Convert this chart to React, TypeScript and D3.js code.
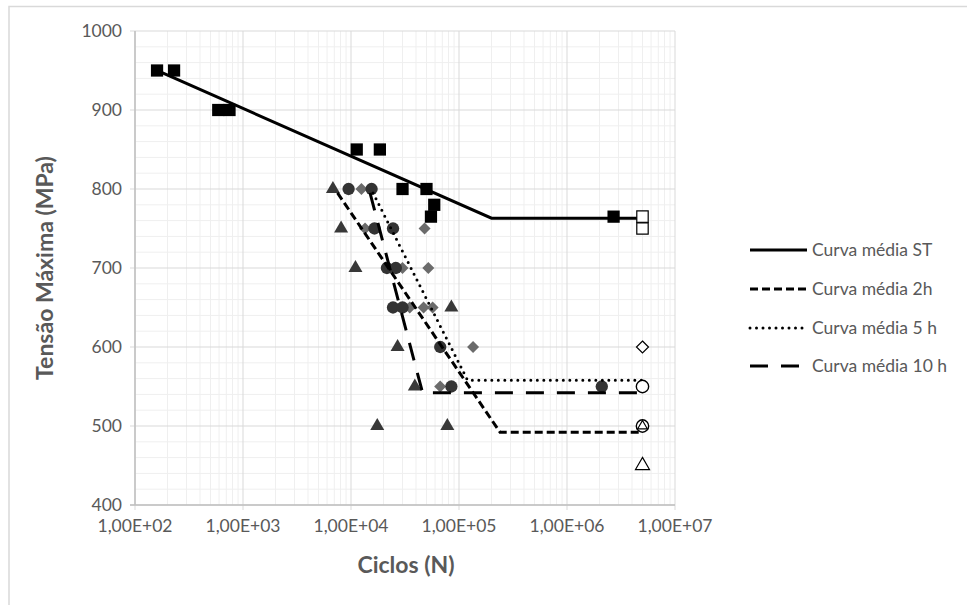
import React from "react";
import * as d3 from "d3";

// ---- data ----
const stN = [160, 230, 590, 750, 11300, 18500, 30000, 50000, 55000, 59000, 2700000];
const stS = [950, 950, 900, 900, 850, 850, 800, 800, 765, 780, 765];
const stRunN = [5000000, 5000000];
const stRunS = [765, 750];

const h2N = [6800, 8100, 11000, 27000, 39000, 17500, 78000, 85000];
const h2S = [800, 750, 700, 600, 550, 500, 500, 650];
const h2RunN = [5000000, 5000000];
const h2RunS = [450, 500];

const h5N = [12500, 13500, 48000, 30000, 52000, 35000, 47000, 57000, 135000, 67000];
const h5S = [800, 750, 750, 700, 700, 650, 650, 650, 600, 550];
const h5RunN = [5000000];
const h5RunS = [600];

const h10N = [9500, 15500, 16500, 24500, 21500, 26000, 24500, 30000, 67000, 85000, 2100000];
const h10S = [800, 800, 750, 750, 700, 700, 650, 650, 600, 550, 550];
const h10RunN = [5000000, 5000000];
const h10RunS = [550, 500];

const meanSTN = [180, 200000, 5000000];
const meanSTS = [947, 763, 763];
const mean2N = [7500, 240000, 5000000];
const mean2S = [795, 492, 492];
const mean5N = [16000, 120000, 5000000];
const mean5S = [795, 558, 558];
const mean10N = [15000, 46000, 5000000];
const mean10S = [795, 542, 542];

const xTicks = [1e2, 1e3, 1e4, 1e5, 1e6, 1e7];
const xTickLabels = ["1,00E+02", "1,00E+03", "1,00E+04", "1,00E+05", "1,00E+06", "1,00E+07"];
const yTicks = [400, 500, 600, 700, 800, 900, 1000];
const legendLabels = ["Curva média ST", "Curva média 2h", "Curva média 5 h", "Curva média 10 h"];

const FONT = "Lato, 'Open Sans', sans-serif";
const TXT = "#595959";

export default function App() {
  const x = d3.scaleLog().domain([1e2, 1e7]).range([135, 675]);
  const y = d3.scaleLinear().domain([400, 1000]).range([505, 31]);
  const line = d3
    .line<[number, number]>()
    .x((d) => x(d[0]))
    .y((d) => y(d[1]));
  const zip = (a: number[], b: number[]) => a.map((v, i) => [v, b[i]] as [number, number]);

  // gridlines
  const minorX: number[] = [];
  for (let e = 2; e < 7; e++) for (let k = 2; k <= 9; k++) minorX.push(k * Math.pow(10, e));
  const minorY: number[] = [];
  for (let v = 400; v <= 1000; v += 20) if (v % 100 !== 0) minorY.push(v);

  const sym = (type: d3.SymbolType, size: number) => d3.symbol().type(type).size(size)()!;
  const square = sym(d3.symbolSquare, 150);
  const squareOpen = sym(d3.symbolSquare, 130);
  const tri = sym(d3.symbolTriangle, 85);
  const triSmall = sym(d3.symbolTriangle, 40);
  const dh = 6;
  const diam = `M0,${-dh}L${dh},0L0,${dh}L${-dh},0Z`;
  const circ = sym(d3.symbolCircle, 120);

  const pts = (N: number[], S: number[], path: string, fill: string, stroke: string, sw = 0) =>
    N.map((n, i) => (
      <path
        key={i}
        d={path}
        transform={`translate(${x(n)},${y(S[i])})`}
        fill={fill}
        stroke={stroke}
        strokeWidth={sw}
      />
    ));

  const legendY = [250, 289, 328, 366];
  const lineStyles = [
    { dash: undefined, cap: "butt" },
    { dash: "8 4", cap: "butt" },
    { dash: "0 6.5", cap: "round" },
    { dash: "18 13", cap: "butt" },
  ];
  const meanData = [
    zip(meanSTN, meanSTS),
    zip(mean2N, mean2S),
    zip(mean5N, mean5S),
    zip(mean10N, mean10S),
  ];

  return (
    <svg
      width={967}
      height={605}
      style={{ position: "fixed", left: 0, top: 0, background: "#fff" }}
      fontFamily={FONT}
    >
      <rect x={9} y={6.5} width={970} height={620} fill="#fff" stroke="#d9d9d9" strokeWidth={1.5} />
      {/* grid */}
      {minorY.map((v) => (
        <line key={"my" + v} x1={135} x2={675} y1={y(v)} y2={y(v)} stroke="#efefef" strokeWidth={1} />
      ))}
      {minorX.map((v) => (
        <line key={"mx" + v} x1={x(v)} x2={x(v)} y1={31} y2={505} stroke="#efefef" strokeWidth={1} />
      ))}
      {yTicks.map((v) => (
        <line key={"gy" + v} x1={130} x2={675} y1={y(v)} y2={y(v)} stroke="#d9d9d9" strokeWidth={1} />
      ))}
      {xTicks.map((v) => (
        <line key={"gx" + v} x1={x(v)} x2={x(v)} y1={31} y2={510} stroke="#d9d9d9" strokeWidth={1} />
      ))}
      <line x1={135} x2={135} y1={31} y2={505} stroke="#bfbfbf" strokeWidth={1.5} />
      <line x1={130} x2={675} y1={505} y2={505} stroke="#bfbfbf" strokeWidth={1.5} />

      {/* tick labels */}
      {yTicks.map((v) => (
        <text key={"ty" + v} x={122} y={y(v)} dy="0.35em" textAnchor="end" fontSize={17.5} fill={TXT}>
          {v}
        </text>
      ))}
      {xTicks.map((v, i) => (
        <text key={"tx" + v} x={x(v)} y={526} dy="0.35em" textAnchor="middle" fontSize={17.5} fill={TXT}>
          {xTickLabels[i]}
        </text>
      ))}

      {/* axis titles */}
      <text x={406} y={565} dy="0.35em" textAnchor="middle" fontSize={23} fontWeight="bold" fill={TXT}>
        Ciclos (N)
      </text>
      <text
        transform={`translate(45,268) rotate(-90)`}
        dy="0.35em"
        textAnchor="middle"
        fontSize={23}
        fontWeight="bold"
        fill={TXT}
      >
        Tensão Máxima (MPa)
      </text>

      {/* markers */}
      {pts(h2N, h2S, tri, "#383838", "none")}
      {pts(h5N, h5S, diam, "#6b6b6b", "none")}
      {pts(h10N, h10S, circ, "#333333", "none")}
      {pts(stN, stS, square, "#000", "none")}

      {/* mean lines */}
      {meanData.map((d, i) => (
        <path
          key={"ml" + i}
          d={line(d)!}
          fill="none"
          stroke="#000"
          strokeWidth={3}
          strokeDasharray={lineStyles[i].dash}
          strokeLinecap={lineStyles[i].cap as any}
        />
      ))}

      {/* runouts */}
      {pts(stRunN, stRunS, squareOpen, "#fff", "#000", 1.2)}
      {pts(h2RunN.slice(0, 1), h2RunS.slice(0, 1), tri, "#fff", "#000", 1.2)}
      {pts(h10RunN, h10RunS, circ, "#fff", "#000", 1.4)}
      {pts(h2RunN.slice(1), h2RunS.slice(1), triSmall, "none", "#000", 1.2)}
      {pts(h5RunN, h5RunS, diam, "#fff", "#000", 1.2)}

      {/* legend */}
      {legendLabels.map((l, i) => (
        <g key={"lg" + i}>
          <line
            x1={750}
            x2={807}
            y1={legendY[i]}
            y2={legendY[i]}
            stroke="#000"
            strokeWidth={3}
            strokeDasharray={lineStyles[i].dash}
            strokeLinecap={lineStyles[i].cap as any}
          />
          <text x={812} y={legendY[i]} dy="0.35em" fontSize={17.5} fill={TXT}>
            {l}
          </text>
        </g>
      ))}
    </svg>
  );
}
